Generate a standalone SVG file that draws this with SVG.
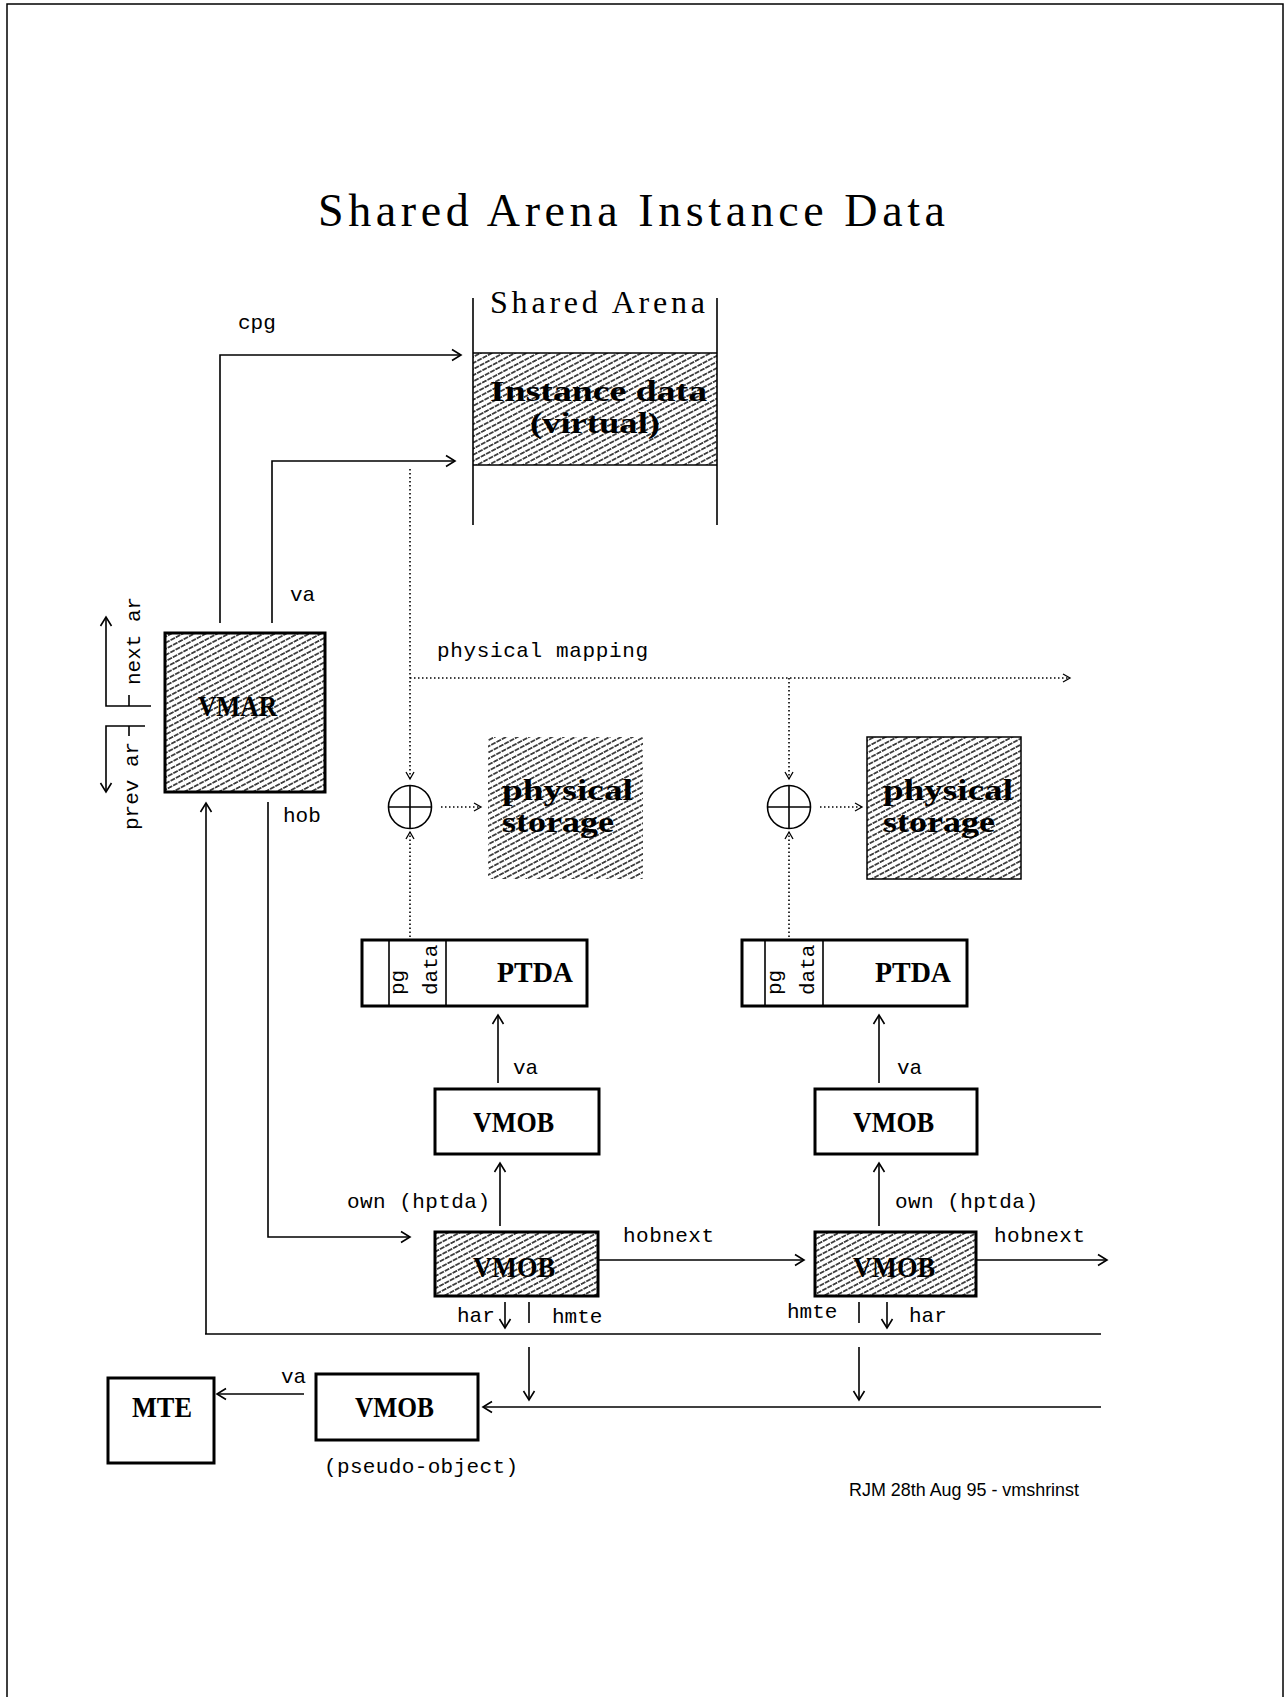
<svg xmlns="http://www.w3.org/2000/svg" width="1286" height="1697" viewBox="0 0 1286 1697">
<defs>
<pattern id="hatch" patternUnits="userSpaceOnUse" width="12" height="5.4" patternTransform="rotate(-28)">
<line x1="0" y1="2.7" x2="12" y2="2.7" stroke="#000" stroke-width="1.5" stroke-dasharray="5 1"/>
</pattern>
<marker id="ah" markerWidth="14" markerHeight="14" refX="12" refY="7" orient="auto" markerUnits="userSpaceOnUse">
<path d="M3,1.5 L12,7 L3,12.5" fill="none" stroke="#000" stroke-width="1.6"/>
</marker>
<marker id="dh" markerWidth="12" markerHeight="12" refX="10" refY="6" orient="auto" markerUnits="userSpaceOnUse">
<path d="M3,2 L10,6 L3,10" fill="none" stroke="#000" stroke-width="1.3"/>
</marker>
</defs>
<style>
.ln{fill:none;stroke:#000;stroke-width:1.6}
.dot{fill:none;stroke:#000;stroke-width:1.6;stroke-dasharray:1.5 2.5}
.box{fill:#fff;stroke:#000;stroke-width:3}
.hbox{fill:url(#hatch);stroke:#000;stroke-width:3}
.mono{font-family:"Liberation Mono",monospace;font-size:21px;fill:#000}
.bold{font-family:"Liberation Serif",serif;font-weight:bold;fill:#000}
.serif{font-family:"Liberation Serif",serif;fill:#000}
</style>
<rect x="7" y="4" width="1276" height="1710" fill="none" stroke="#000" stroke-width="1.5"/>
<text class="serif" x="318" y="226" font-size="46" textLength="627" lengthAdjust="spacing">Shared Arena Instance Data</text>

<g id="shared-arena">
<text class="serif" x="490" y="313" font-size="32" textLength="215" lengthAdjust="spacing">Shared Arena</text>
<rect x="473" y="353" width="244" height="112" fill="url(#hatch)"/>
<line class="ln" x1="473" y1="298" x2="473" y2="525" stroke-width="2"/>
<line class="ln" x1="717" y1="298" x2="717" y2="525" stroke-width="2"/>
<line class="ln" x1="473" y1="353" x2="717" y2="353" stroke-width="3"/>
<line class="ln" x1="473" y1="465" x2="717" y2="465" stroke-width="3"/>
<text class="bold" x="490" y="401" font-size="29" textLength="217" lengthAdjust="spacingAndGlyphs">Instance data</text>
<text class="bold" x="530" y="433" font-size="29" textLength="130" lengthAdjust="spacingAndGlyphs">(virtual)</text>
</g>

<g id="vmar">
<rect class="hbox" x="165" y="633" width="160" height="159"/>
<text class="bold" x="198" y="716" font-size="30" textLength="79" lengthAdjust="spacingAndGlyphs">VMAR</text>
</g>

<g id="phys1">
<rect x="488" y="737" width="155" height="142" fill="url(#hatch)"/>
<text class="bold" x="502" y="800" font-size="30" textLength="131" lengthAdjust="spacingAndGlyphs">physical</text>
<text class="bold" x="502" y="832" font-size="30" textLength="112" lengthAdjust="spacingAndGlyphs">storage</text>
</g>
<g id="phys2">
<rect x="867" y="737" width="154" height="142" fill="url(#hatch)" stroke="#000" stroke-width="1.5"/>
<text class="bold" x="883" y="800" font-size="30" textLength="130" lengthAdjust="spacingAndGlyphs">physical</text>
<text class="bold" x="883" y="832" font-size="30" textLength="112" lengthAdjust="spacingAndGlyphs">storage</text>
</g>

<g id="add1">
<circle cx="410" cy="807" r="21.5" fill="#fff" stroke="#000" stroke-width="1.6"/>
<line class="ln" x1="388.5" y1="807" x2="431.5" y2="807"/>
<line class="ln" x1="410" y1="785.5" x2="410" y2="828.5"/>
</g>
<g id="add2">
<circle cx="789" cy="807" r="21.5" fill="#fff" stroke="#000" stroke-width="1.6"/>
<line class="ln" x1="767.5" y1="807" x2="810.5" y2="807"/>
<line class="ln" x1="789" y1="785.5" x2="789" y2="828.5"/>
</g>

<g id="ptda1">
<rect class="box" x="362" y="940" width="225" height="66"/>
<line class="ln" x1="389" y1="940" x2="389" y2="1006" stroke-width="1.3"/>
<line class="ln" x1="446" y1="940" x2="446" y2="1006" stroke-width="1.3"/>
<text class="mono" transform="translate(404,995) rotate(-90)">pg</text>
<text class="mono" transform="translate(437,995) rotate(-90)">data</text>
<text class="bold" x="497" y="982" font-size="30" textLength="76" lengthAdjust="spacingAndGlyphs">PTDA</text>
</g>
<g id="ptda2">
<rect class="box" x="742" y="940" width="225" height="66"/>
<line class="ln" x1="765" y1="940" x2="765" y2="1006" stroke-width="1.3"/>
<line class="ln" x1="823" y1="940" x2="823" y2="1006" stroke-width="1.3"/>
<text class="mono" transform="translate(781,995) rotate(-90)">pg</text>
<text class="mono" transform="translate(814,995) rotate(-90)">data</text>
<text class="bold" x="875" y="982" font-size="30" textLength="76" lengthAdjust="spacingAndGlyphs">PTDA</text>
</g>

<g id="vmob1">
<rect class="box" x="435" y="1089" width="164" height="65"/>
<text class="bold" x="473" y="1132" font-size="30" textLength="81" lengthAdjust="spacingAndGlyphs">VMOB</text>
</g>
<g id="vmob2">
<rect class="box" x="815" y="1089" width="162" height="65"/>
<text class="bold" x="853" y="1132" font-size="30" textLength="81" lengthAdjust="spacingAndGlyphs">VMOB</text>
</g>
<g id="hvmob1">
<rect class="hbox" x="435" y="1232" width="163" height="64"/>
<text class="bold" x="473" y="1277" font-size="30" textLength="82" lengthAdjust="spacingAndGlyphs">VMOB</text>
</g>
<g id="hvmob2">
<rect class="hbox" x="815" y="1232" width="161" height="64"/>
<text class="bold" x="853" y="1277" font-size="30" textLength="82" lengthAdjust="spacingAndGlyphs">VMOB</text>
</g>
<g id="vmob-pseudo">
<rect class="box" x="316" y="1374" width="162" height="66"/>
<text class="bold" x="355" y="1417" font-size="30" textLength="79" lengthAdjust="spacingAndGlyphs">VMOB</text>
</g>
<g id="mte">
<rect class="box" x="108" y="1378" width="106" height="85"/>
<text class="bold" x="132" y="1417" font-size="30" textLength="60" lengthAdjust="spacingAndGlyphs">MTE</text>
</g>

<g id="connectors">
<path class="ln" d="M220,623 V355 H461" marker-end="url(#ah)"/>
<path class="ln" d="M272,623 V461 H455" marker-end="url(#ah)"/>
<path class="ln" d="M151,706 H106 V617" marker-end="url(#ah)"/>
<path class="ln" d="M129,695 V706"/>
<path class="ln" d="M145,726 H106 V792" marker-end="url(#ah)"/>
<path class="ln" d="M129,726 V736"/>
<path class="dot" d="M410,469 V779" marker-end="url(#dh)"/>
<path class="dot" d="M410,678 H1070" marker-end="url(#dh)"/>
<path class="dot" d="M789,678 V779" marker-end="url(#dh)"/>
<path class="dot" d="M441,807 H481" marker-end="url(#dh)"/>
<path class="dot" d="M820,807 H862" marker-end="url(#dh)"/>
<path class="dot" d="M410,937 V832" marker-end="url(#dh)"/>
<path class="dot" d="M789,937 V832" marker-end="url(#dh)"/>
<path class="ln" d="M498,1083 V1015" marker-end="url(#ah)"/>
<path class="ln" d="M879,1083 V1015" marker-end="url(#ah)"/>
<path class="ln" d="M500,1226 V1163" marker-end="url(#ah)"/>
<path class="ln" d="M879,1226 V1163" marker-end="url(#ah)"/>
<path class="ln" d="M268,802 V1237 H410" marker-end="url(#ah)"/>
<path class="ln" d="M599,1260 H804" marker-end="url(#ah)"/>
<path class="ln" d="M977,1260 H1107" marker-end="url(#ah)"/>
<path class="ln" d="M505,1302 V1328" marker-end="url(#ah)"/>
<path class="ln" d="M529,1302 V1323"/>
<path class="ln" d="M887,1302 V1328" marker-end="url(#ah)"/>
<path class="ln" d="M859,1302 V1323"/>
<line class="ln" x1="205" y1="1334" x2="1101" y2="1334" stroke-width="3"/>
<path class="ln" d="M206,1334 V803" marker-end="url(#ah)"/>
<path class="ln" d="M529,1347 V1400" marker-end="url(#ah)"/>
<path class="ln" d="M859,1347 V1400" marker-end="url(#ah)"/>
<path class="ln" d="M1101,1407 H483" marker-end="url(#ah)"/>
<path class="ln" d="M304,1394 H217" marker-end="url(#ah)"/>
</g>

<g id="labels">
<text class="mono" x="238" y="329">cpg</text>
<text class="mono" x="290" y="601">va</text>
<text class="mono" transform="translate(140,685) rotate(-90)">next ar</text>
<text class="mono" transform="translate(138,830) rotate(-90)">prev ar</text>
<text class="mono" x="283" y="822">hob</text>
<text class="mono" x="437" y="657" textLength="211">physical mapping</text>
<text class="mono" x="513" y="1074">va</text>
<text class="mono" x="897" y="1074">va</text>
<text class="mono" x="347" y="1208" textLength="143">own (hptda)</text>
<text class="mono" x="895" y="1208" textLength="143">own (hptda)</text>
<text class="mono" x="623" y="1242" textLength="91">hobnext</text>
<text class="mono" x="994" y="1242" textLength="91">hobnext</text>
<text class="mono" x="457" y="1322">har</text>
<text class="mono" x="552" y="1323">hmte</text>
<text class="mono" x="787" y="1318">hmte</text>
<text class="mono" x="909" y="1322">har</text>
<text class="mono" x="281" y="1383">va</text>
<text class="mono" x="324" y="1473" textLength="194">(pseudo-object)</text>
<text x="849" y="1496" font-family="Liberation Sans, sans-serif" font-size="19" textLength="230" lengthAdjust="spacingAndGlyphs">RJM 28th Aug 95 - vmshrinst</text>
</g>
</svg>
